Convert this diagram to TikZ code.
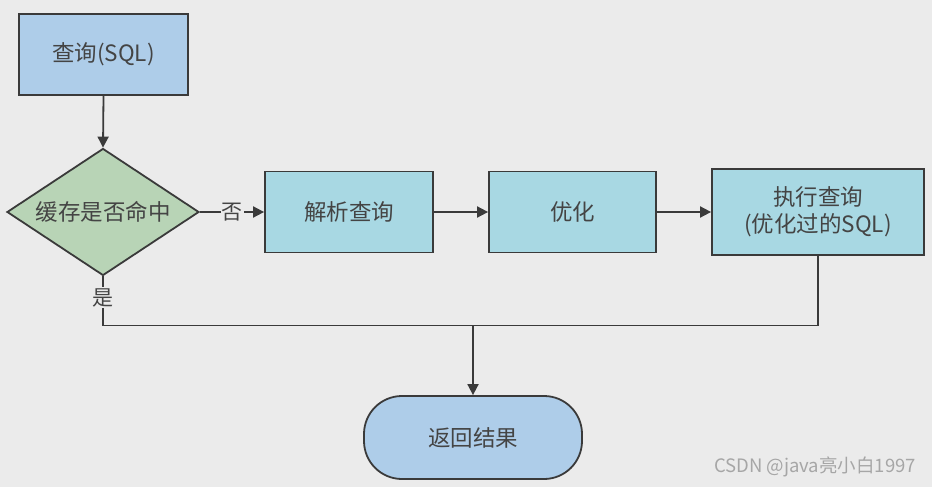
\documentclass[tikz,border=0pt]{standalone}
\usepackage{fontspec}
\setmainfont{Noto Sans CJK SC}
\usetikzlibrary{shapes.geometric,arrows.meta,positioning}
\definecolor{bg}{HTML}{EBEBEB}
\definecolor{bluefill}{HTML}{AECDE9}
\definecolor{greenfill}{HTML}{B8D4B6}
\definecolor{cyanfill}{HTML}{A8D8E3}
\definecolor{edge}{HTML}{3A3A3A}
\definecolor{txt}{HTML}{444444}
\tikzset{
  base/.style={draw=edge, line width=1.8pt, text=txt, font=\fontsize{22.5}{27}\selectfont, align=center, inner sep=0pt},
  bluebox/.style={base, rectangle, fill=bluefill},
  procbox/.style={base, rectangle, fill=cyanfill},
  decision/.style={base, diamond, fill=greenfill, aspect=1.5},
  terminal/.style={base, rectangle, rounded corners=38pt, fill=bluefill},
  conn/.style={draw=edge, line width=1.8pt},
  arr/.style={conn, -{Triangle[length=11pt,width=11pt]}},
  lbl/.style={fill=bg, text=txt, font=\fontsize{21}{23}\selectfont, inner sep=1pt}
}
\begin{document}
\begin{tikzpicture}[x=1pt,y=-1pt]
\fill[bg] (0,0) rectangle (932,487);
\useasboundingbox (0,0) rectangle (932,487);
\node[bluebox, minimum width=169pt, minimum height=81pt] (q) at (103.5,54.5) {查询(SQL)};
\node[decision, minimum width=192pt, minimum height=127pt] (d) at (103,212) {缓存是否命中};
\node[procbox, minimum width=168pt, minimum height=81pt] (p) at (349,212) {解析查询};
\node[procbox, minimum width=167pt, minimum height=81pt] (o) at (572.5,212) {优化};
\node[procbox, minimum width=212pt, minimum height=86pt] (e) at (818,212) {执行查询\\(优化过的SQL)};
\node[terminal, minimum width=218pt, minimum height=83pt] (r) at (473,437.5) {返回结果};
\node[text=gray!70, font=\fontsize{18.5}{20}\selectfont, anchor=east, inner sep=0pt] (w) at (916,467) {CSDN @java亮小白1997};
\draw[arr] (q.south) -- (d.north);
\draw[arr] (d.east) -- node[lbl]{否} (p.west);
\draw[arr] (p.east) -- (o.west);
\draw[arr] (o.east) -- (e.west);
\draw[conn] (d.south) -- node[lbl, pos=0.43]{是} ++(0,49) coordinate (c1) -| (e.south);
\draw[arr] (r.north |- c1) -- (r.north);
\end{tikzpicture}
\end{document}
